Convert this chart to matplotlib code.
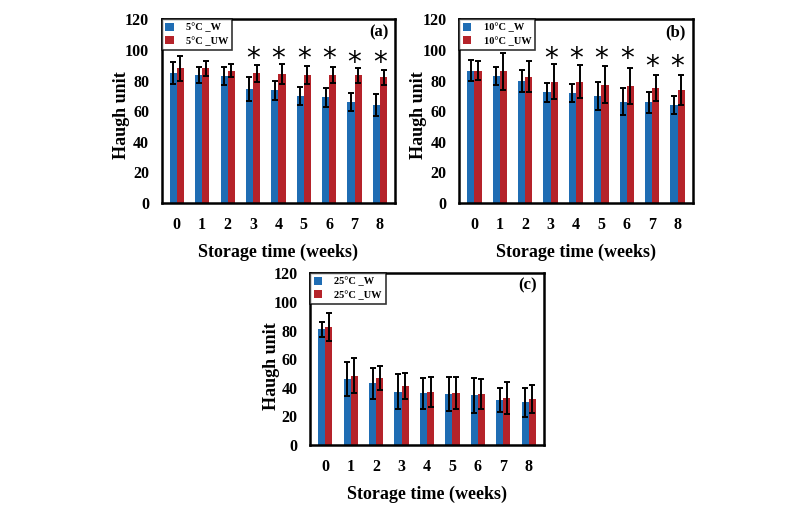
import matplotlib
matplotlib.use("Agg")
import matplotlib.pyplot as plt
import numpy as np

weeks = [0, 1, 2, 3, 4, 5, 6, 7, 8]

a_w = [84.8, 83.7, 83.0, 74.6, 73.5, 70.0, 69.0, 65.9, 64.0]
a_w_err = [7, 5, 6, 8, 6, 6, 6, 6, 7]
a_uw = [88.0, 88.0, 86.5, 84.8, 84.0, 83.7, 83.7, 83.3, 82.2]
a_uw_err = [8, 5, 4, 5.6, 6.5, 6, 5, 5, 5]

b_w = [86.5, 83.0, 79.8, 72.2, 71.7, 70.0, 66.3, 65.7, 64.1]
b_w_err = [7, 6, 7, 6.5, 6, 9, 8.5, 7, 6]
b_uw = [86.5, 86.0, 82.6, 79.3, 79.3, 77.2, 76.5, 75.0, 73.9]
b_uw_err = [6, 12, 10, 11.5, 11, 12, 12, 8.5, 10]

c_w = [80.9, 46.2, 43.1, 37.3, 36.1, 35.7, 34.7, 31.5, 29.8]
c_w_err = [5.3, 12, 11, 12, 11, 11.6, 12.3, 8.4, 10]
c_uw = [82.7, 48.5, 47.0, 41.2, 36.8, 36.1, 35.4, 33.1, 32.2]
c_uw_err = [9.8, 12, 8.5, 9.4, 10.5, 11.2, 10.5, 11.2, 9.8]

a_star_weeks = [3, 4, 5, 6, 7, 8]
a_star_y = [93.8, 93.8, 93.8, 93.8, 91.7, 91.7]
b_star_weeks = [3, 4, 5, 6, 7, 8]
b_star_y = [93.8, 93.8, 93.8, 93.8, 88.7, 88.7]

yticks = [0, 20, 40, 60, 80, 100, 120]

BLUE = "#1f6db4"
RED = "#b5232a"
SERIF = ["Liberation Serif", "DejaVu Serif"]

fig = plt.figure(figsize=(8, 5.12), dpi=100)

def panel(rect, w, werr, uw, uwerr, labels, tag, ylab_x, ylab_y, stars_x=None, stars_y=None):
    ax = fig.add_axes(rect)
    x = np.array(weeks)
    bw = 0.28
    ax.bar(x - bw / 2, w, bw, color=BLUE, label=labels[0], zorder=2)
    ax.bar(x + bw / 2, uw, bw, color=RED, label=labels[1], zorder=2)
    ax.errorbar(x - bw / 2, w, yerr=werr, fmt="none", ecolor="black",
                elinewidth=1.4, capsize=2.5, capthick=1.4, zorder=3)
    ax.errorbar(x + bw / 2, uw, yerr=uwerr, fmt="none", ecolor="black",
                elinewidth=1.4, capsize=2.5, capthick=1.4, zorder=3)
    ax.set_xlim(-0.6, 8.6)
    ax.set_ylim(0, 120)
    ax.set_yticks(yticks)
    ax.set_xticks(weeks)
    ax.tick_params(axis="y", length=0, pad=9)
    ax.tick_params(axis="x", length=0, pad=10)
    for lab in ax.get_xticklabels() + ax.get_yticklabels():
        lab.set_fontfamily(SERIF)
        lab.set_fontweight("bold")
        lab.set_fontsize(11.5)
    for s in ax.spines.values():
        s.set_linewidth(1.8)
    ax.set_ylabel("Haugh unit", fontfamily=SERIF, fontweight="bold", fontsize=13)
    ax.yaxis.set_label_coords(ylab_x, ylab_y)
    ax.set_xlabel("Storage time (weeks)", fontfamily=SERIF, fontweight="bold", fontsize=13, labelpad=8)
    ax.text(0.97, 0.93, tag, transform=ax.transAxes, ha="right", va="center",
            fontfamily=SERIF, fontweight="bold", fontsize=12)
    leg = ax.legend(loc="upper left", bbox_to_anchor=(0.0, 1.0), frameon=True, fancybox=False,
                    prop={"family": SERIF, "size": 7.5, "weight": "bold"},
                    handlelength=0.8, handleheight=0.8, handletextpad=1.2,
                    borderpad=0.35, labelspacing=0.35, borderaxespad=0.0)
    leg.get_frame().set_edgecolor("black")
    leg.get_frame().set_linewidth(1.2)
    if stars_x is not None:
        for sx, sy in zip(stars_x, stars_y):
            ax.text(sx, sy, "*", ha="center", va="center", fontsize=20,
                    fontfamily="DejaVu Sans", color="black")
    return ax

panel([0.202, 0.6035, 0.292, 0.3588], a_w, a_w_err, a_uw, a_uw_err,
      ["5°C _W", "5°C _UW"], "(a)", -0.137, 0.48, a_star_weeks, a_star_y)
panel([0.574, 0.6035, 0.292, 0.3588], b_w, b_w_err, b_uw, b_uw_err,
      ["10°C _W", "10°C _UW"], "(b)", -0.137, 0.48, b_star_weeks, b_star_y)
panel([0.3875, 0.1309, 0.2925, 0.3353], c_w, c_w_err, c_uw, c_uw_err,
      ["25°C _W", "25°C _UW"], "(c)", -0.129, 0.46)

fig.savefig("out.png", dpi=100)
